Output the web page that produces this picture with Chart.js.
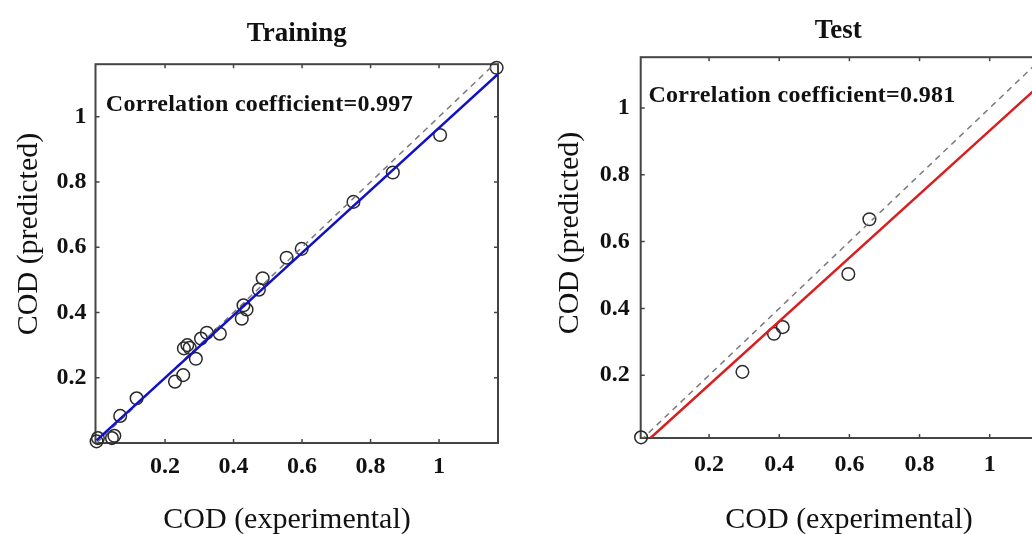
<!DOCTYPE html>
<html>
<head>
<meta charset="utf-8">
<title>COD predicted vs experimental</title>
<script src="https://cdn.jsdelivr.net/npm/chart.js@4.4.1/dist/chart.umd.min.js"></script>
<style>
  html, body { margin: 0; padding: 0; background: #fff; overflow: hidden; width: 1032px; height: 534px; }
  canvas { position: absolute; top: 0; }
  #train-chart { left: 0; }
  #test-chart { left: 540px; }
</style>
</head>
<body>
<canvas id="train-chart" width="520" height="534"></canvas>
<canvas id="test-chart" width="520" height="534"></canvas>
<script>
// ── Data ──────────────────────────────────────
const tickVals = [0.2, 0.4, 0.6, 0.8, 1];

// Training set (experimental vs predicted COD)
const trainX = [0.000, 0.004, 0.045, 0.052, 0.069, 0.117, 0.229, 0.253, 0.255, 0.265, 0.272, 0.290, 0.305, 0.322, 0.360, 0.424, 0.438, 0.429, 0.474, 0.485, 0.555, 0.599, 0.750, 0.865, 1.003, 1.168];
const trainY = [0.005, 0.015, 0.015, 0.022, 0.083, 0.137, 0.188, 0.208, 0.290, 0.300, 0.292, 0.258, 0.320, 0.338, 0.335, 0.381, 0.409, 0.422, 0.470, 0.505, 0.568, 0.595, 0.739, 0.829, 0.944, 1.150];
const trainFitX = [0.000, 1.170];
const trainFitY = [0.008, 1.129];
const trainDiag = [0.000, 1.161];

// Test set
const testX = [0.006, 0.295, 0.385, 0.410, 0.597, 0.657];
const testY = [0.014, 0.210, 0.324, 0.344, 0.503, 0.667];
const testFitX = [0.033, 1.132];
const testFitY = [0.012, 1.058];
const testDiag = [0.005, 1.132];

const SERIF = "'Liberation Serif', 'Times New Roman', serif";
const pts = (xs, ys) => xs.map((x, i) => ({ x, y: ys[i] }));

// ── MATLAB-style box, inward ticks and labels ──
const matlabBox = {
  id: 'matlabBox',
  beforeDatasetsDraw(chart) {
    const { ctx, chartArea: a, scales: { x, y } } = chart;
    ctx.save();
    ctx.strokeStyle = '#444';
    ctx.lineWidth = 2;
    ctx.strokeRect(a.left, a.top, a.right - a.left, a.bottom - a.top);
    ctx.lineWidth = 1.5;
    ctx.beginPath();
    tickVals.forEach(v => {
      const px = x.getPixelForValue(v), py = y.getPixelForValue(v);
      ctx.moveTo(px, a.bottom); ctx.lineTo(px, a.bottom - 4);
      ctx.moveTo(px, a.top); ctx.lineTo(px, a.top + 4);
      ctx.moveTo(a.left, py); ctx.lineTo(a.left + 4, py);
      ctx.moveTo(a.right, py); ctx.lineTo(a.right - 4, py);
    });
    ctx.stroke();
    ctx.restore();
  },
  afterDatasetsDraw(chart) {
    const o = chart.options.plugins.matlabBox;
    if (!o) return;
    const { ctx, scales: { x, y } } = chart;
    ctx.save();
    ctx.fillStyle = '#111';

    // correlation note, anchored in data units
    ctx.font = `bold 24px ${SERIF}`;
    ctx.letterSpacing = '0.3px';
    ctx.textBaseline = 'alphabetic';
    ctx.textAlign = 'left';
    ctx.fillText(o.corr, x.getPixelForValue(0.027), y.getPixelForValue(1.017));
    ctx.letterSpacing = '0px';

    // axis labels
    ctx.font = `30px ${SERIF}`;
    ctx.textAlign = 'center';
    ctx.textBaseline = 'middle';
    ctx.fillText('COD (experimental)', o.xLabelAt[0], o.xLabelAt[1]);
    ctx.translate(o.yLabelAt[0], o.yLabelAt[1]);
    ctx.rotate(-Math.PI / 2);
    ctx.fillText('COD (predicted)', 0, 0);
    ctx.restore();
  }
};

// ── Chart factory ─────────────────────────────
function makeChart(id, c) {
  return new Chart(document.getElementById(id), {
    type: 'scatter',
    data: {
      datasets: [
        {
          data: pts(c.fitX, c.fitY), showLine: true, pointRadius: 0,
          borderColor: c.fitColor, borderWidth: 2.5, order: 1
        },
        {
          data: pts(c.diag, c.diag), showLine: true, pointRadius: 0,
          borderColor: '#7a7a7a', borderWidth: 1.5, borderDash: [6, 5], order: 2
        },
        {
          data: pts(c.xs, c.ys), pointRadius: 6.3, pointStyle: 'circle',
          pointBorderColor: '#2a2a2a', pointBackgroundColor: 'rgba(0,0,0,0)',
          pointBorderWidth: 1.5, clip: false, order: 3
        }
      ]
    },
    options: {
      responsive: false,
      animation: false,
      events: [],
      layout: { padding: { left: 0, right: c.padRight, top: 0, bottom: 0 } },
      plugins: {
        legend: { display: false },
        tooltip: { enabled: false },
        title: {
          display: true, text: c.title, fullSize: false, color: '#111',
          font: { family: SERIF, size: 27, weight: 'bold', lineHeight: 1.2 },
          padding: c.titlePad
        },
        matlabBox: { corr: c.corr, xLabelAt: c.xLabelAt, yLabelAt: c.yLabelAt }
      },
      scales: {
        x: {
          type: 'linear', min: c.xMin, max: c.xMax,
          afterBuildTicks: s => { s.ticks = tickVals.map(v => ({ value: v })); },
          afterFit: s => { s.height = c.xAxisH; },
          grid: { display: false }, border: { display: false },
          ticks: {
            autoSkip: false, maxRotation: 0, padding: c.xTickPad, color: '#111',
            font: { family: SERIF, size: 24, weight: 'bold' },
            callback: v => String(v)
          }
        },
        y: {
          type: 'linear', min: c.yMin, max: c.yMax,
          afterBuildTicks: s => { s.ticks = tickVals.map(v => ({ value: v })); },
          afterFit: s => { s.width = c.yAxisW; },
          grid: { display: false }, border: { display: false },
          ticks: {
            autoSkip: false, padding: c.yTickPad, color: '#111',
            font: { family: SERIF, size: 24, weight: 'bold' },
            callback: v => String(v)
          }
        }
      }
    },
    plugins: [matlabBox]
  });
}

// ── Init ──────────────────────────────────────
makeChart('train-chart', {
  title: 'Training', corr: 'Correlation coefficient=0.997',
  xs: trainX, ys: trainY, fitX: trainFitX, fitY: trainFitY, diag: trainDiag,
  fitColor: '#1010c8',
  xMin: -0.003, xMax: 1.172, yMin: 0, yMax: 1.161,
  padRight: 22, titlePad: { top: 18, bottom: 13.8 },
  xAxisH: 91, yAxisW: 95.5, xTickPad: 1, yTickPad: 1,
  xLabelAt: [287, 520], yLabelAt: [29, 234]
});

makeChart('test-chart', {
  title: 'Test', corr: 'Correlation coefficient=0.981',
  xs: testX, ys: testY, fitX: testFitX, fitY: testFitY, diag: testDiag,
  fitColor: '#d81e1e',
  xMin: 0.005, xMax: 1.132, yMin: 0.012, yMax: 1.152,
  padRight: 24, titlePad: { top: 15, bottom: 9.8 },
  xAxisH: 96, yAxisW: 100.7, xTickPad: 4, yTickPad: 3,
  xLabelAt: [309, 520], yLabelAt: [30, 233]
});
</script>
</body>
</html>
